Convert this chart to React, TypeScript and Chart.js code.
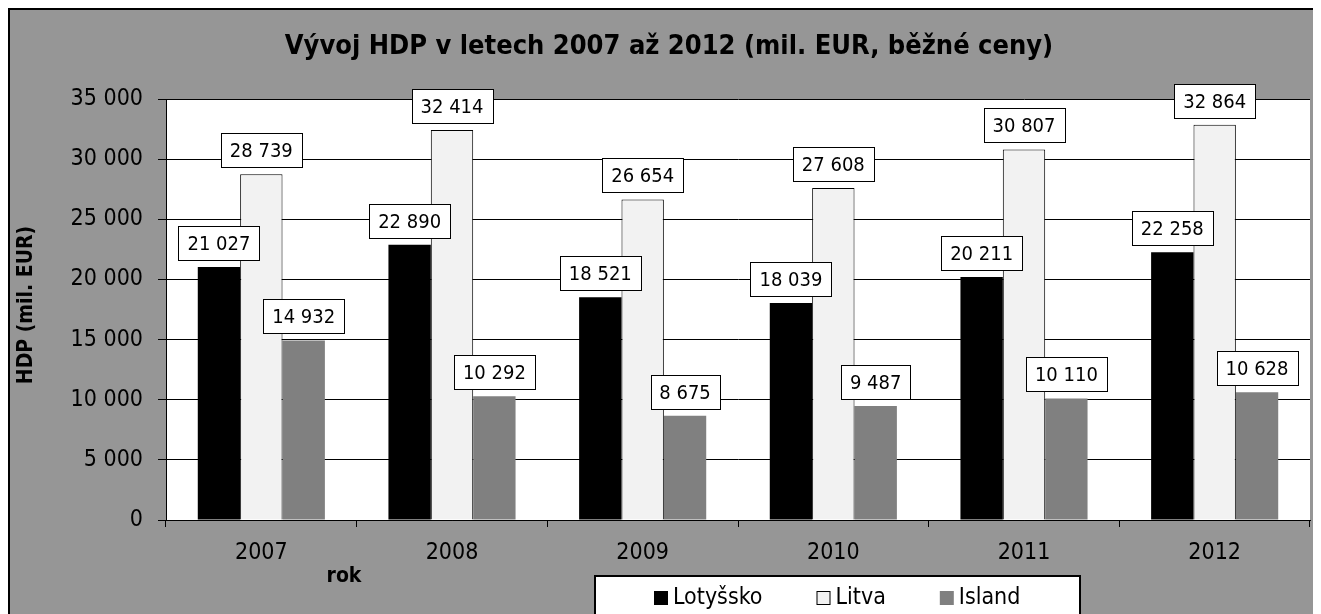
import React, { useEffect, useRef } from "react";
import { Chart, registerables } from "chart.js";

Chart.register(...registerables);

// ---- data ----
const years = ["2007", "2008", "2009", "2010", "2011", "2012"];
const lotyssko = [21027, 22890, 18521, 18039, 20211, 22258];
const litva = [28739, 32414, 26654, 27608, 30807, 32864];
const island = [14932, 10292, 8675, 9487, 10110, 10628];
const seriesNames = ["Lotyšsko", "Litva", "Island"];
const yMin = 0;
const yMax = 35000;
const yStep = 5000;
const titleText = "Vývoj HDP v letech 2007 až 2012 (mil. EUR, běžné ceny)";
const yTitleText = "HDP (mil. EUR)";
const xTitleText = "rok";

// ---- styles ----
const FONT = "'DejaVu Sans Condensed', 'DejaVu Sans', sans-serif";
const BG = "#969696";
const colors = ["#000000", "#f2f2f2", "#808080"];
const borders = ["#000000", "#000000", "#8a8a8a"];
const borderWidths = [0, 1, 0];
const W = 1330;
const H = 620;
const PAD_RIGHT = 28;

const fmt = (v: number) => String(Math.round(v)).replace(/\B(?=(\d{3})+(?!\d))/g, "\u00a0");

const decorPlugin = {
  id: "decor",
  beforeDraw(chart: any) {
    const { ctx, chartArea: a } = chart;
    ctx.save();
    ctx.fillStyle = BG;
    ctx.fillRect(0, 0, chart.width, chart.height);
    ctx.fillStyle = "#ffffff";
    ctx.fillRect(a.left, a.top, a.right - a.left, a.bottom - a.top);
    ctx.restore();
  },
  afterDatasetsDraw(chart: any) {
    const { ctx } = chart;
    ctx.save();
    ctx.font = `20px ${FONT}`;
    ctx.textAlign = "center";
    ctx.textBaseline = "middle";
    chart.data.datasets.forEach((ds: any, di: number) => {
      const meta = chart.getDatasetMeta(di);
      meta.data.forEach((el: any, i: number) => {
        const txt = fmt(ds.data[i]);
        const tw = ctx.measureText(txt).width;
        const bw = Math.round(tw + 18);
        const bh = 34;
        const bx = Math.round(el.x - bw / 2) + 0.5;
        const by = Math.round(el.y - 7 - bh) + 0.5;
        ctx.fillStyle = "#ffffff";
        ctx.fillRect(bx, by, bw, bh);
        ctx.strokeStyle = "#000000";
        ctx.lineWidth = 1;
        ctx.strokeRect(bx, by, bw, bh);
        ctx.fillStyle = "#000000";
        ctx.fillText(txt, el.x, by + bh / 2 + 1);
      });
    });
    ctx.restore();
  },
  afterDraw(chart: any) {
    const { ctx } = chart;
    ctx.save();
    // outer border: only the left and top edges fall inside the view
    ctx.strokeStyle = "#000000";
    ctx.lineWidth = 2;
    ctx.beginPath();
    ctx.moveTo(1, chart.height);
    ctx.lineTo(1, 1);
    ctx.lineTo(chart.width, 1);
    ctx.stroke();

    // title
    ctx.fillStyle = "#000000";
    ctx.font = `bold 27px ${FONT}`;
    ctx.textAlign = "center";
    ctx.textBaseline = "alphabetic";
    ctx.fillText(titleText, 661, 46);

    // y axis title
    ctx.save();
    ctx.translate(19, 297);
    ctx.rotate(-Math.PI / 2);
    ctx.font = `bold 21px ${FONT}`;
    ctx.textBaseline = "middle";
    ctx.fillText(yTitleText, 0, 0);
    ctx.restore();

    // x axis title
    ctx.font = `bold 21px ${FONT}`;
    ctx.textBaseline = "middle";
    ctx.fillText(xTitleText, 336, 569);

    // legend
    const lx = 587, ly = 568, lw = 485;
    ctx.fillStyle = "#ffffff";
    ctx.fillRect(lx, ly, lw, chart.height - ly + 20);
    ctx.lineWidth = 2;
    ctx.strokeStyle = "#000000";
    ctx.strokeRect(lx, ly, lw, chart.height - ly + 20);
    ctx.font = `23px ${FONT}`;
    ctx.textAlign = "left";
    ctx.textBaseline = "middle";
    const sq = 14, gapTxt = 5, gapItem = 54;
    const widths = seriesNames.map((n) => sq + gapTxt + ctx.measureText(n).width);
    let cx = lx + 59;
    const cy = 590;
    seriesNames.forEach((n, i) => {
      ctx.fillStyle = colors[i];
      ctx.fillRect(cx, cy - sq / 2, sq, sq);
      if (i === 1) {
        ctx.lineWidth = 1;
        ctx.strokeStyle = "#000000";
        ctx.strokeRect(cx + 0.5, cy - sq / 2 + 0.5, sq - 1, sq - 1);
      }
      ctx.fillStyle = "#000000";
      ctx.fillText(n, cx + sq + gapTxt, cy);
      cx += widths[i] + gapItem;
    });
    ctx.restore();
  },
};

export default function App() {
  const ref = useRef<HTMLCanvasElement | null>(null);
  useEffect(() => {
    document.documentElement.style.overflow = "hidden";
    document.body.style.overflow = "hidden";
    if (!ref.current) return;
    const chart = new Chart(ref.current, {
      type: "bar",
      data: {
        labels: years,
        datasets: [lotyssko, litva, island].map((d, i) => ({
          label: seriesNames[i],
          data: d,
          backgroundColor: colors[i],
          borderColor: borders[i],
          borderWidth: borderWidths[i],
          categoryPercentage: 3 / 4.5,
          barPercentage: 1,
        })),
      },
      options: {
        animation: false,
        responsive: false,
        devicePixelRatio: 1,
        layout: { padding: { left: 0, right: PAD_RIGHT, top: 91, bottom: 0 } },
        plugins: {
          legend: { display: false },
          title: { display: false },
          tooltip: { enabled: false },
        },
        scales: {
          x: {
            offset: true,
            grid: {
              display: true,
              drawOnChartArea: false,
              drawTicks: true,
              tickLength: 7,
              color: "#000000",
              offset: true,
              lineWidth: 1,
            },
            border: { display: true, color: "#000000", width: 1 },
            ticks: {
              color: "#000000",
              font: { size: 23, family: FONT },
              padding: 12,
              maxRotation: 0,
              autoSkip: false,
            },
            afterFit: (s: any) => {
              s.height = 108;
            },
          },
          y: {
            min: yMin,
            max: yMax,
            ticks: {
              stepSize: yStep,
              color: "#000000",
              font: { size: 23, family: FONT },
              padding: 15,
              callback: (v: any) => fmt(Number(v)),
            },
            grid: { color: "#000000", lineWidth: 1, tickLength: 8, drawTicks: true },
            border: { display: true, color: "#000000", width: 1 },
            afterFit: (s: any) => {
              s.width = 158;
            },
          },
        },
      },
      plugins: [decorPlugin],
    } as any);
    return () => chart.destroy();
  }, []);
  return (
    <div style={{ width: W, height: H, overflow: "hidden" }}>
      <canvas ref={ref} width={W} height={H} style={{ display: "block", width: W, height: H }} />
    </div>
  );
}
